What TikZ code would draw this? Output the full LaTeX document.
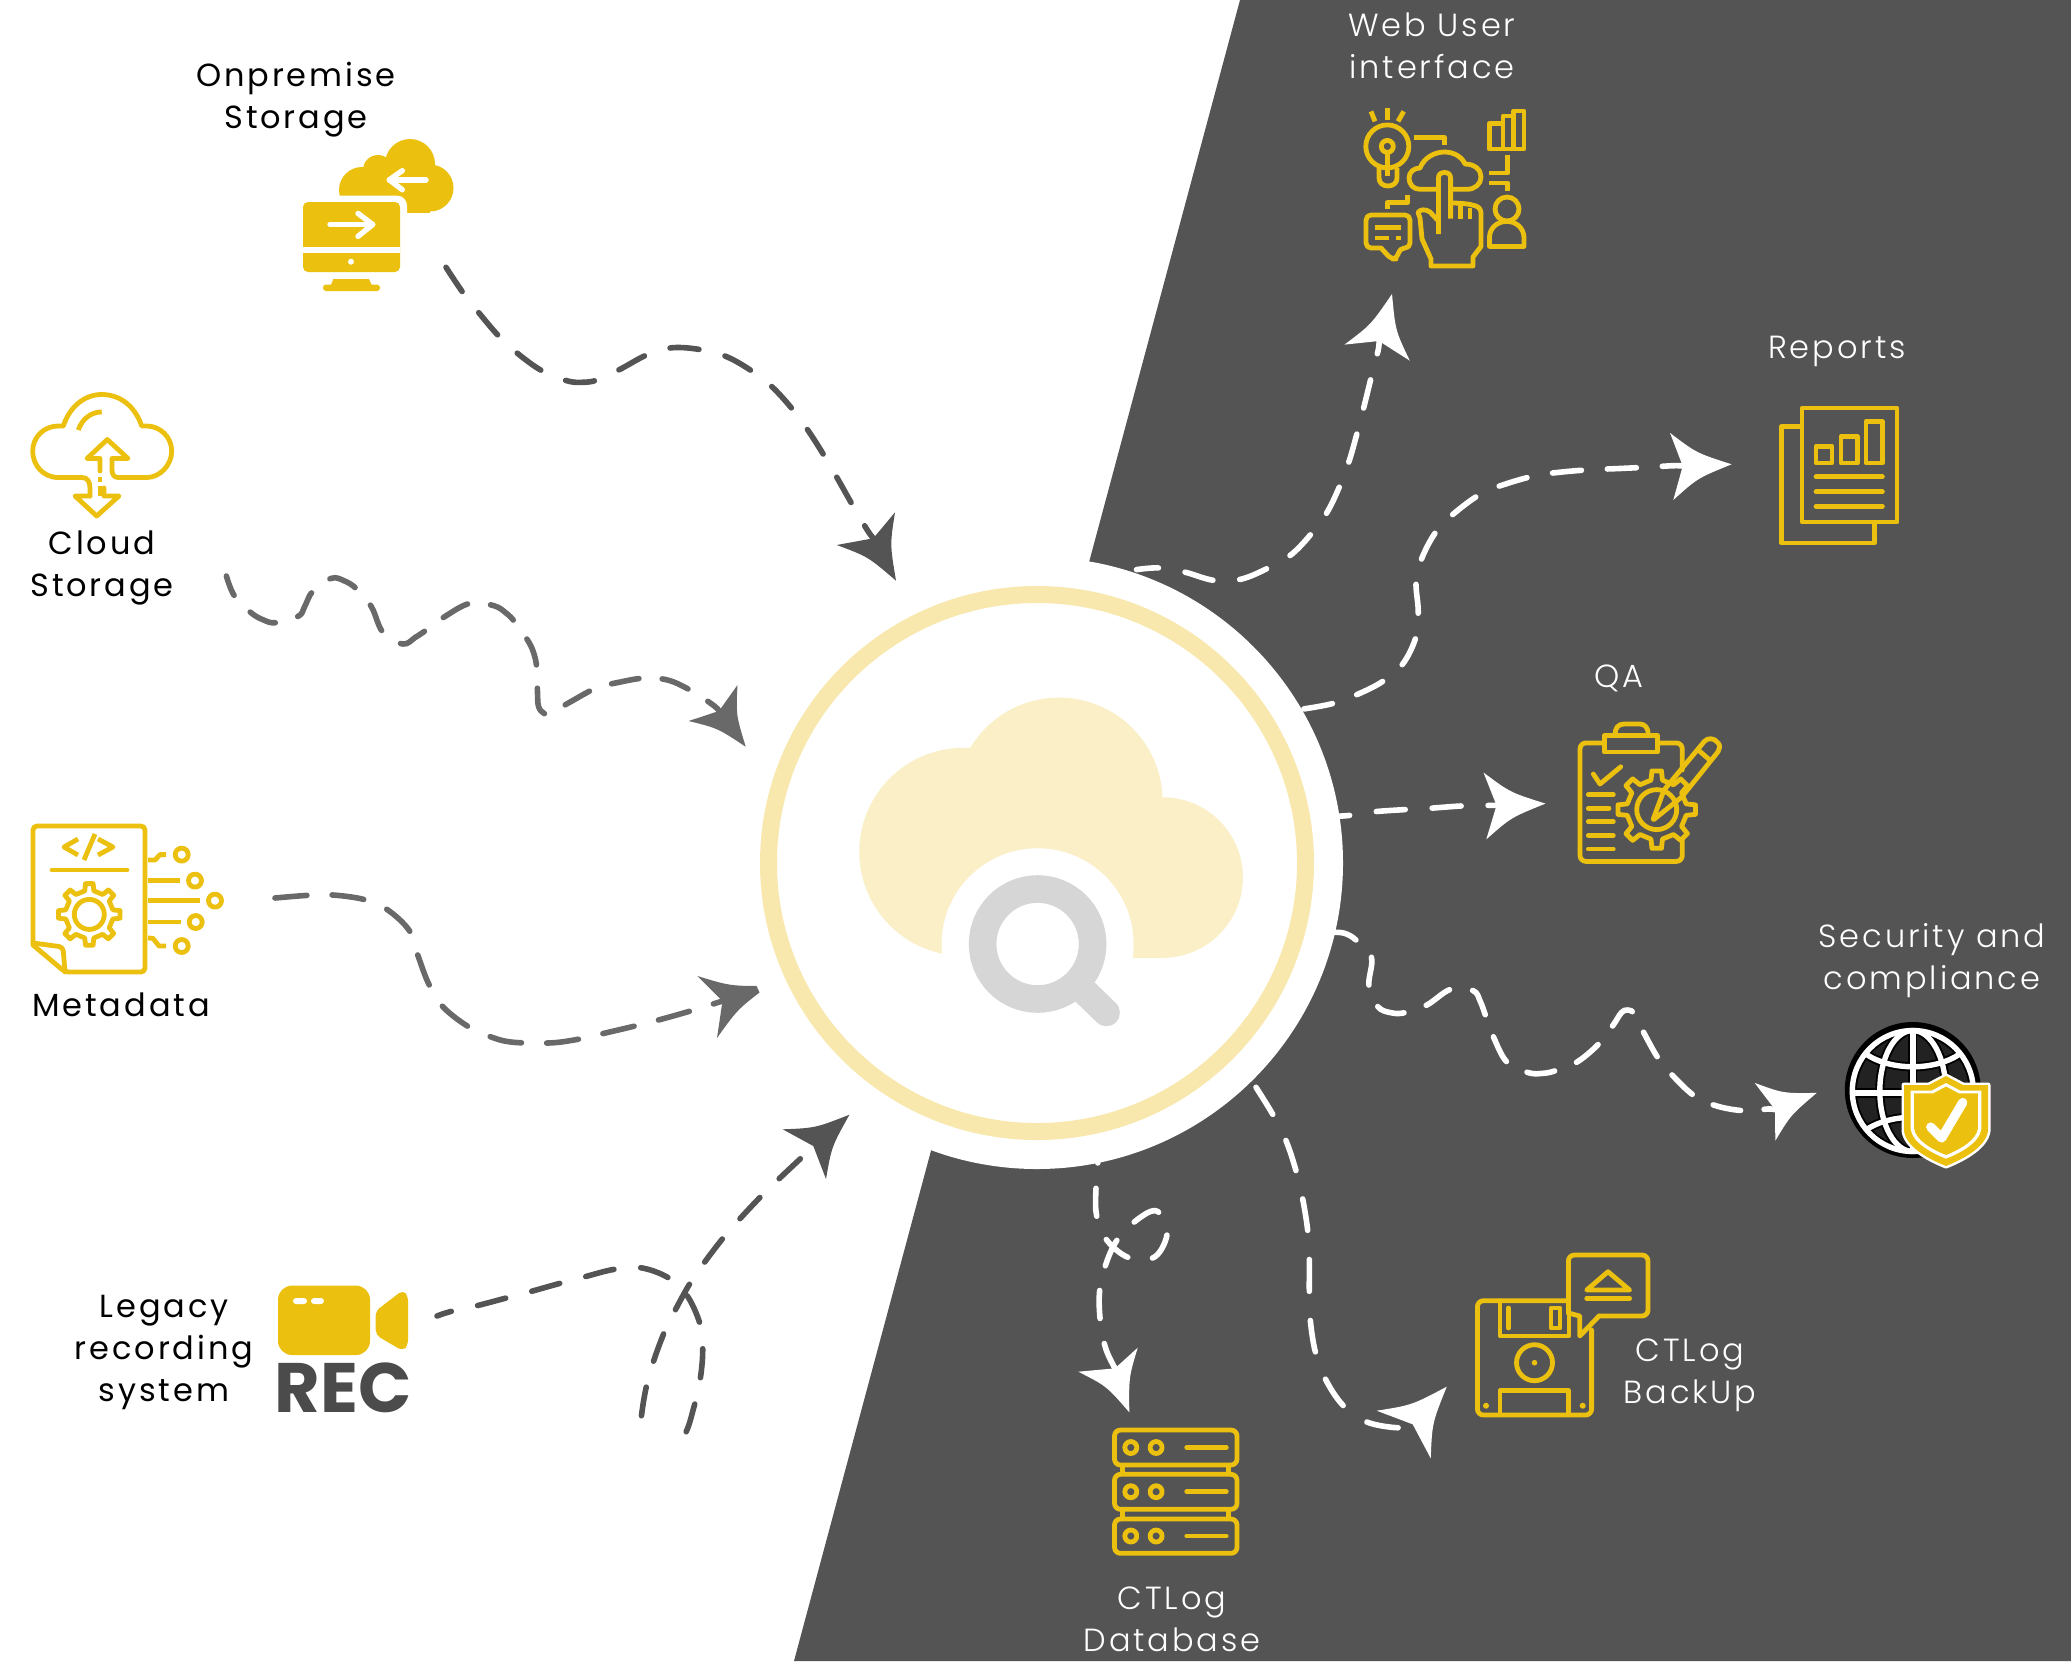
\documentclass[tikz,border=0pt]{standalone}
\usepackage{fontspec}
\usetikzlibrary{calc}
\setmainfont{Poppins}
\newfontfamily\lblfont[LetterSpace=9]{Poppins}
\newfontfamily\lbllight[LetterSpace=9,UprightFont=* Light]{Poppins}
\definecolor{ybase}{HTML}{ECC00E}
\definecolor{darkbg}{HTML}{545454}
\definecolor{midgrey}{HTML}{696969}
\definecolor{ringc}{HTML}{F8E8AD}
\definecolor{cloudc}{HTML}{FAEFC7}
\definecolor{magc}{HTML}{D6D6D6}
\definecolor{recc}{HTML}{4B4B4B}
\definecolor{cellc}{HTML}{222222}
\tikzset{
  icon/.style={draw=ybase,line width=2.4pt,line join=round,line cap=round,fill=none},
  iconfill/.style={fill=ybase,draw=none},
  wline/.style={draw=white,line width=2.7pt,line cap=round,line join=round},
  conn/.style={line width=2.8pt,line cap=round,dash pattern=on 14.5pt off 13.5pt},
  darkconn/.style={conn,draw=darkbg},
  greyconn/.style={conn,draw=midgrey},
  whiteconn/.style={conn,draw=white},
  labdark/.style={align=center,anchor=base,inner sep=0pt,text=black,font=\lblfont\fontsize{16}{21}\selectfont},
  lablight/.style={align=center,anchor=base,inner sep=0pt,text=white,font=\lbllight\fontsize{16}{21}\selectfont},
}
\newcommand{\ahd}[5]{\fill[#1] (#2) .. controls ($($(#2)!0.5!(#3)$)!0.25!(#4)$) .. (#3) -- (#4) -- (#5) .. controls ($($(#2)!0.5!(#5)$)!0.25!(#4)$) .. (#2) -- cycle;}
\newcommand{\gearicon}[4]{\begin{scope}[shift={(#1,#2)}]
  \draw[icon] (-11:#4) \foreach \a in {0,45,...,315}{ -- (\a-11:#4) -- (\a-7:#3) -- (\a+7:#3) -- (\a+11:#4) } -- cycle;
  \end{scope}}
\newcommand{\shieldp}{(0,-44) -- (17,-35) -- (42,-35) -- (42,11) .. controls (40,26) and (20,38) .. (0,46) .. controls (-20,38) and (-40,26) .. (-42,11) -- (-42,-35) -- (-17,-35) -- cycle}
\begin{document}
\begin{tikzpicture}[x=0.5pt,y=-0.5pt]
\useasboundingbox (0,0) rectangle (2071,1661);
\fill[white] (0,0) rectangle (2071,1661);
\fill[darkbg] (1240,0) -- (2071,0) -- (2071,1661) -- (794,1661) -- cycle;

% ---- incoming connectors (under the white disc)
\coordinate (s1) at (446,267.3); \coordinate (n1) at (873.3,538.3);
\draw[darkconn] plot[smooth,tension=.6] coordinates {(s1) (462.3,291.7) (479.3,313.3) (498.7,336) (518.3,354) (542.3,371) (566.7,380.7) (581.7,382.3) (597.3,380) (620,369.3) (647.3,354.7) (672.7,347.7) (702.7,350) (728,357.3) (754.3,372.7) (774.3,389) (794.7,412) (810,433.3) (826,458.7) (839.3,481.7) (854,507.7) (867.7,530.7) (n1)};
\ahd{darkbg}{896,580.7}{836.7,545}{n1}{895,512.3}

\coordinate (s2) at (226.4,576); \coordinate (n2) at (719,711);
\draw[greyconn,dash pattern=on 13.9pt off 11.7pt,dash phase=3.5pt] plot[smooth,tension=.6] coordinates {(s2) (234.3,595.7) (251,612.7) (263.6,620) (276,622.7) (298.6,616) (304.6,606.7) (312.9,591) (331.4,578.3) (343.9,580.7) (356.4,588.7) (371.4,606.7) (382.9,632.3) (402.9,644) (415.4,637.3) (426.4,630) (445.7,616) (470,603.3) (493.9,605.7) (506.4,613.3) (515.4,622.7) (528.9,642.3) (534.3,655) (536.8,668.7) (537.5,692.7) (538.6,706.7) (543.9,713.3) (550,713.3) (570.7,701.7) (595.7,688.3) (618.9,682.3) (645.7,678) (670,680.7) (694.6,692.7) (714.3,706) (n2)};
\ahd{midgrey}{745.7,746.7}{688.6,721}{n2}{737.5,685}

\coordinate (s3) at (275,898); \coordinate (n3) at (722.5,1001);
\draw[greyconn,dash pattern=on 16pt off 12.6pt] plot[smooth,tension=.6] coordinates {(s3) (308.3,895.3) (331.7,894.9) (363.3,899.3) (386.7,909.2) (409.3,930.5) (417.7,954.8) (428.3,983) (441.7,1005.5) (465.7,1025) (488.3,1035.9) (511,1042) (548,1043) (574,1040) (601,1034) (647,1023) (687,1012) (n3)};
\ahd{midgrey}{768,986}{697.4,976}{n3}{717,1038}

\coordinate (s4) at (437,1316); \coordinate (n4) at (813.3,1146);
\begin{scope}
\clip (430,1100) -- (900,1100) -- (900,1480) -- (720,1458) -- (620,1428) -- (430,1428) -- cycle;
\draw[darkconn,dash phase=7pt] plot[smooth,tension=.6] coordinates {(s4) (450,1311.7) (475.7,1306) (505,1298.3) (530,1291.7) (560,1283.3) (585,1276.7) (614.3,1269.3) (640.7,1267.7) (668.3,1277.7) (686.7,1295) (700,1324) (702.7,1350.7) (700,1380.7) (694,1406.7) (684.3,1435) (665,1451.7) (640,1439.3) (641.7,1414) (646.7,1385) (654.3,1359) (665,1330.7) (676.7,1307.3) (691,1281.7) (706.7,1259.3) (725,1235.7) (742.7,1215.7) (763.3,1194) (782.3,1175.7) (804.3,1155) (n4)};
\end{scope}
\ahd{darkbg}{849.4,1114.7}{782.7,1129.3}{n4}{826,1179}

% ---- centre
\fill[white] (1037,863) circle (306);
\draw[ringc,line width=8.5pt] (1037,863) circle (268.5);
\fill[cloudc] (963.3,851.8) circle (104);
\fill[cloudc] (1059,801.2) circle (103.6);
\fill[cloudc] (1162.6,877.5) circle (80.3);
\fill[cloudc] (963.3,800) rectangle (1162.6,957.8);
\fill[white] (1037.6,944.3) circle (96);
\draw[magc,line width=13.8pt] (1037.6,944) circle (55);
\draw[magc,line width=13.5pt,line cap=round] (1086,993) -- (1106.4,1012.7);

% ---- outgoing connectors
\coordinate (s5) at (1136.5,569.6); \coordinate (n5) at (1379,341);
\draw[whiteconn,dash phase=3.5pt] plot[smooth,tension=.6] coordinates {(s5) (1159,567.9) (1184.7,572.1) (1214,580.4) (1240.6,579.3) (1268.4,567.9) (1291.6,554.3) (1312,532.9) (1327.6,511.4) (1340.6,483.9) (1349.6,459.6) (1357.8,430.4) (1364.3,405.4) (1371.6,375.7) (1378.2,350) (n5)};
\ahd{white}{1392,294}{1344.5,344.6}{n5}{1409.8,360.7}

\coordinate (s6) at (1303.9,708.9); \coordinate (n6) at (1682.7,466);
\draw[whiteconn,dash pattern=on 14.5pt off 13pt] plot[smooth,tension=.6] coordinates {(s6) (1332.4,703.6) (1356.9,694.6) (1382.7,681.4) (1403,663.6) (1416.1,636.4) (1418.2,610.7) (1416.1,580.4) (1423,555.4) (1437.8,529.3) (1457.3,510.7) (1481.4,493.6) (1505.9,483.9) (1535.3,475.7) (1561,472.1) (1591.6,469.6) (1617.3,468.6) (1648.8,467.1) (1673.3,465.7) (n6)};
\ahd{white}{1731.6,464.3}{1670,432.9}{n6}{1673.3,500}

\coordinate (s7) at (1330,816.5); \coordinate (n7) at (1496.5,805.4);
\draw[whiteconn,dash phase=4.7pt] plot[smooth,tension=.6] coordinates {(s7) (1349.6,815.4) (1373.3,811.8) (1404.7,809.6) (1430.4,808.2) (1461,806) (1487.6,805.4) (n7)};
\ahd{white}{1545.5,803.6}{1483.5,772.5}{n7}{1486.3,839.3}

\coordinate (s8) at (1333.9,932.3); \coordinate (n8) at (1775,1109.6);
\draw[whiteconn,dash pattern=on 14pt off 11.8pt,dash phase=2pt] plot[smooth,tension=.6] coordinates {(s8) (1344.6,933.3) (1356,940) (1371.4,957.3) (1368.9,985.7) (1377.9,1006.7) (1391,1012.7) (1404.6,1012.7) (1426.8,1005) (1450.7,989.3) (1473.2,990.7) (1480.4,1001.7) (1485.7,1016) (1493.6,1037.3) (1507.1,1062.3) (1528.6,1072.7) (1542.9,1073.3) (1555.4,1070.7) (1577.5,1061.7) (1599.3,1043.3) (1613.2,1025) (1621.4,1012.7) (1627.9,1010) (1634.6,1014.3) (1645,1035) (1658.9,1059.3) (1674.3,1077.3) (1694.6,1096) (1716.8,1106) (1743.9,1110.7) (1767.9,1109) (n8)};
\ahd{white}{1816.7,1092.9}{1754.7,1082.9}{n8}{1775.3,1140.7}

\coordinate (s9) at (1099,1150); \coordinate (n9) at (1115,1368.3);
\draw[whiteconn,dash pattern=on 14pt off 12.7pt,dash phase=7.5pt] plot[smooth,tension=.6] coordinates {(s9) (1096,1187.7) (1096.7,1216) (1106.7,1240) (1129,1257.7) (1155,1256.7) (1167.3,1231.7) (1155.7,1210.7) (1131.7,1224) (1115,1243.3) (1104,1270) (1099.3,1295) (1100.7,1324.3) (1106,1349.3) (n9)};
\ahd{white}{1129.3,1412.3}{1078.3,1371.7}{n9}{1137.7,1347.7}

\coordinate (s10) at (1256,1087.3); \coordinate (n10) at (1412.7,1424.3);
\draw[whiteconn,dash pattern=on 15.9pt off 14.6pt] plot[smooth,tension=.6] coordinates {(s10) (1272.7,1114.3) (1286,1140.7) (1296,1170.7) (1302.7,1199) (1307.7,1230.7) (1309.3,1260) (1309.3,1290.7) (1310.3,1320) (1315.3,1351.7) (1325,1378.3) (1342.7,1405) (1366,1421.7) (1397.3,1427.7) (n10)};
\ahd{white}{1446.7,1386.7}{1376.7,1410.7}{n10}{1430.7,1458.3}

% ---- Onpremise icon
\fill[ybase] (362,190) circle (23);
\fill[ybase] (378,170) circle (15);
\fill[ybase] (410,164) circle (25);
\fill[ybase] (430,188) circle (23.5);
\fill[ybase] (362,175) rectangle (430,212.5);
\fill[white,rounded corners=5pt] (296,195.6) rectangle (407,240);
\fill[ybase,rounded corners=2.5pt] (303,202) rectangle (400,272);
\fill[white] (303,247) rectangle (400,253);
\fill[white] (351,261.7) circle (3);
\fill[ybase] (333.3,279) -- (369,279) -- (371.7,285) -- (331,285) -- cycle;
\fill[ybase,rounded corners=1.5pt] (323,284.6) rectangle (380,291);
\draw[wline] (330,224.5) -- (372.7,224.5);
\draw[wline] (358,213.4) -- (372.7,224.5) -- (358,236.4);
\draw[wline] (426,179.8) -- (389.3,179.8);
\draw[wline] (402.3,170.7) -- (389.3,179.8) -- (402.3,189.7);

% ---- Cloud icon
\draw[icon] (90,496) -- (90,488) .. controls (90,481) and (87,477.5) .. (82,477.5) -- (58.3,477.5) .. controls (43,477.5) and (32.7,465) .. (32.7,451) .. controls (32.7,437) and (44,426) .. (58.3,426) -- (63.3,426) .. controls (70,406) and (85,394.5) .. (101.7,394.5) .. controls (120,394.5) and (135,406) .. (141.7,426) -- (146.7,426) .. controls (160,426) and (171.7,437) .. (171.7,451) .. controls (171.7,465) and (160,477.5) .. (146.7,477.5) -- (118,477.5) .. controls (114,477.5) and (112,474) .. (112,470) -- (112,458.5) -- (128,458.5) -- (107.3,439.5) -- (87,458.5) -- (100,458.5) -- (100,471);
\draw[icon,line cap=butt] (100,477) -- (100,482);
\draw[icon,line cap=butt] (100,486) -- (100,496);
\draw[icon] (104,488) -- (104,496) -- (119,496) -- (96.7,516) -- (75,496) -- (90,496);
\draw[icon,line cap=butt] (78.3,430) .. controls (82,419) and (91,412) .. (101.7,411.9);

% ---- Metadata icon
\draw[icon,rounded corners=2pt] (33,945) -- (33,826) -- (145,826) -- (145,972) -- (65,972) -- (33,945);
\draw[icon,rounded corners=2pt] (65,972) -- (63,947) -- (33,943);
\draw[icon,line cap=butt] (78,839) -- (64,847) -- (78,855);
\draw[icon,line cap=butt] (95,834) -- (84,860);
\draw[icon,line cap=butt] (98,839) -- (113,847) -- (98,855);
\draw[icon] (52,870) -- (127,870);
\gearicon{89.3}{914.4}{31}{24}
\draw[icon] (89.3,914.4) circle (15);
\draw[icon,line cap=butt] (148,880.6) -- (180,880.6);
\draw[icon,line cap=butt] (148,900.6) -- (200,900.6);
\draw[icon,line cap=butt] (148,922) -- (181,922);
\draw[icon,line cap=butt] (148,860) -- (155,860) -- (160,854.6) -- (166,854.6);
\draw[icon,line cap=butt] (148,938) -- (153,938.3) -- (159,946) -- (166,946);
\draw[icon] (181.7,854.6) circle (6.5);
\draw[icon] (195,880.6) circle (6.5);
\draw[icon] (215,900.6) circle (6.5);
\draw[icon] (195.7,922) circle (6.5);
\draw[icon] (181.7,946) circle (6.5);

% ---- REC icon
\fill[ybase,rounded corners=7pt] (278,1285.6) rectangle (370,1355);
\fill[white,rounded corners=1.5pt] (293,1298) rectangle (307,1304);
\fill[white,rounded corners=1.5pt] (311,1298) rectangle (324,1304);
\fill[ybase,rounded corners=2.5pt] (375.7,1311) -- (403,1290) -- (408,1296) -- (408,1345) -- (403,1351) -- (375.7,1335) -- cycle;
\node[anchor=base,inner sep=0pt,text=recc,font=\bfseries\fontsize{35}{38}\selectfont] (rec) at (343,1412) {REC};

% ---- Web UI icon
\draw[icon,line cap=butt] (1387.3,146.4) circle (21.5);
\draw[icon] (1387.3,146.4) circle (6);
\draw[icon,line cap=butt] (1387.3,152) -- (1387.3,176);
\draw[icon,line cap=butt] (1379,168) -- (1379,178) .. controls (1379,183) and (1383,186) .. (1388,186) .. controls (1393,186) and (1397,183) .. (1397,178) -- (1397,168);
\draw[icon,line cap=butt] (1371,111.4) -- (1375,121.4);
\draw[icon,line cap=butt] (1387.3,108) -- (1387.3,120);
\draw[icon,line cap=butt] (1403.7,111.4) -- (1398,121.4);
\draw[icon,line cap=butt] (1414,137.5) -- (1444.5,137.5) -- (1444.5,145);
\draw[icon,line cap=butt] (1489.4,123.5) rectangle (1503,149);
\draw[icon,line cap=butt] (1503,116) rectangle (1513.5,149);
\draw[icon,line cap=butt] (1513.5,111) rectangle (1524,149);
\draw[icon,line cap=butt] (1507.8,155.4) -- (1507.8,173) -- (1489.4,173);
\draw[icon,line cap=butt] (1489.4,183) -- (1507.8,183) -- (1507.8,191);
\draw[icon,line cap=butt] (1438.4,189.3) -- (1420,189.3) .. controls (1413,189.3) and (1409,184) .. (1409,178) .. controls (1409,172) and (1414,168) .. (1420,168) .. controls (1424,158) and (1434,152) .. (1444.5,152) .. controls (1454,152) and (1462,157) .. (1465,164) .. controls (1475,164) and (1481,170) .. (1481,177) .. controls (1481,184) and (1475,189.3) .. (1467,189.3) -- (1450,189.3);
\draw[icon,line cap=butt] (1438.4,234) -- (1438.4,178.6) .. controls (1438.4,174) and (1441,172.5) .. (1444.5,172.5) .. controls (1448,172.5) and (1450.6,174) .. (1450.6,178.6) -- (1450.6,218.6);
\draw[icon,line cap=butt] (1460.8,205) -- (1460.8,218.6);
\draw[icon,line cap=butt] (1470,208) -- (1470,218.6);
\draw[icon,line cap=butt] (1450.6,203) .. controls (1462,203) and (1470,204) .. (1476,206) .. controls (1480,208) and (1481,210) .. (1481,214) -- (1481,246.4) -- (1473,257) -- (1473,266) -- (1431,266) -- (1431,259) -- (1422,239) -- (1420,218) -- (1418,212.5) .. controls (1420,209) and (1426,209) .. (1430,212) -- (1438.4,221);
\draw[icon,rounded corners=2.5pt] (1381,248) -- (1366,248) -- (1366,215) -- (1410,215) -- (1410,248) -- (1399.6,248) -- (1397,259) -- (1391,259) -- (1381,248);
\fill[ybase] (1375,225) rectangle (1401,230);
\fill[ybase] (1375,236) rectangle (1389,240);
\fill[ybase] (1395.5,236) rectangle (1401,240);
\draw[icon,line cap=butt] (1407.8,194.6) -- (1407.8,202.5) -- (1387.3,202.5) -- (1387.3,209);
\draw[icon] (1507,209) circle (12);
\draw[icon] (1489.4,246.4) -- (1524,246.4) -- (1524,238) .. controls (1524,228) and (1516,221.4) .. (1507,221.4) .. controls (1497,221.4) and (1489.4,228) .. (1489.4,238) -- cycle;

% ---- Reports icon
\draw[icon] (1802,408) rectangle (1897,522);
\draw[icon] (1801,426.8) -- (1781.2,426.8) -- (1781.2,542.9) -- (1874.3,542.9) -- (1874.3,523);
\draw[icon] (1816,446.4) rectangle (1832,462.9);
\draw[icon] (1841,436.4) rectangle (1857.6,462.9);
\draw[icon] (1866,421.4) rectangle (1882.4,462.9);
\draw[icon] (1816,476.8) -- (1882.4,476.8);
\draw[icon] (1816,491.8) -- (1882.4,491.8);
\draw[icon] (1816,506.4) -- (1882.4,506.4);

% ---- QA icon
\draw[icon,rounded corners=3pt] (1603.3,742.9) -- (1580,742.9) -- (1580,861.4) -- (1682.3,861.4) -- (1682.3,840);
\draw[icon,rounded corners=3pt] (1658.3,742.9) -- (1682.3,742.9) -- (1682.3,770);
\draw[icon] (1604.3,735.7) rectangle (1657.7,752);
\draw[icon] (1615,735) .. controls (1615,728) and (1618,724) .. (1624,724) -- (1640,724) .. controls (1645,724) and (1648.3,728) .. (1648.3,735);
\draw[icon] (1593.3,774) -- (1600,784) -- (1620.7,766.8);
\draw[icon] (1588.3,794.6) -- (1613.3,794.6);
\draw[icon] (1588.3,808.2) -- (1609,808.2);
\draw[icon] (1588.3,821.8) -- (1613.3,821.8);
\draw[icon] (1588.3,835.4) -- (1613.3,835.4);
\draw[icon] (1588.3,849) -- (1613.3,849);
\gearicon{1656.7}{809.6}{39}{30}
\draw[icon] (1656.7,809.6) circle (20);
\draw[icon,rounded corners=1pt] (1652.7,820.4) -- (1664,790) -- (1703,743) .. controls (1708,737) and (1714,739) .. (1717,742) .. controls (1720,745) and (1720,749) .. (1717,753) -- (1681.7,797) -- cycle;
\draw[icon] (1699,750.7) -- (1709.3,759.6);

% ---- Security icon
\fill[black] (1912.8,1090) circle (68);
\begin{scope}[shift={(1912.8,1091)}]
\fill[cellc] (0,0) circle (58);
\foreach \wcol/\wid in {black/4.6pt,white/2.7pt}{
\draw[\wcol,line width=\wid] (0,0) circle (60.5);
\draw[\wcol,line width=\wid] (0,0) ellipse (33 and 60.5);
\draw[\wcol,line width=\wid] (0,-60.5) -- (0,60.5);
\draw[\wcol,line width=\wid] (-60.5,2) -- (60.5,2);
\draw[\wcol,line width=\wid] (-47,-37) .. controls (-22,-20) and (22,-20) .. (47,-37);
\draw[\wcol,line width=\wid] (-47,39) .. controls (-22,22) and (22,22) .. (47,39);
}
\end{scope}
\begin{scope}[shift={(1946,1120)}]
\fill[white,line join=round] \shieldp;
\draw[white,line width=2.5pt,line join=round] \shieldp;
\fill[ybase] \shieldp;
\begin{scope}[scale=.84]
\fill[white] \shieldp;
\end{scope}
\begin{scope}[scale=.76]
\fill[ybase] \shieldp;
\end{scope}
\end{scope}
\draw[white,line width=4.6pt,line cap=round,line join=round] (1930.7,1127) -- (1941.7,1138) -- (1962.7,1102.5);

% ---- Database icon
\foreach \yt/\yb in {1430/1465,1474.3/1509.3,1519/1553.3}{
  \draw[icon,rounded corners=3pt] (1114.5,\yt) rectangle (1237,\yb);
}
\foreach \yy in {1447.5,1491.7,1536}{
  \draw[icon] (1130.8,\yy) circle (6);
  \draw[icon] (1156.1,\yy) circle (6);
  \draw[icon] (1186.7,\yy) -- (1226.3,\yy);
}
\draw[icon,line cap=butt] (1122.7,1465) -- (1122.7,1474);
\draw[icon,line cap=butt] (1228.4,1465) -- (1228.4,1474);
\draw[icon,line cap=butt] (1122.7,1509) -- (1122.7,1519);
\draw[icon,line cap=butt] (1228.4,1509) -- (1228.4,1519);

% ---- Backup icon
\draw[icon,rounded corners=3pt] (1566.3,1300.7) -- (1477.4,1300.7) -- (1477.4,1415) -- (1591.6,1415) -- (1591.6,1330);
\draw[icon] (1500,1301) -- (1500,1336) -- (1569,1336) -- (1569,1312);
\draw[icon] (1508.4,1308) -- (1508.4,1328);
\draw[icon] (1551,1308) rectangle (1560,1328);
\draw[icon] (1534.5,1362.7) circle (18);
\fill[ybase] (1534.5,1362.7) circle (2.8);
\draw[icon] (1500,1413) -- (1500,1390.7) -- (1568.4,1390.7) -- (1568.4,1413);
\fill[ybase] (1486,1405.7) circle (3);
\fill[ybase] (1582.7,1405.7) circle (3);
\draw[icon,rounded corners=3pt] (1568.4,1313) -- (1568.4,1255) -- (1648,1255) -- (1648,1316) -- (1599,1316);
\draw[icon] (1599,1316) -- (1579.8,1336) -- (1579.8,1316) -- (1568.4,1313);
\draw[icon] (1608,1271.7) -- (1629.6,1290) -- (1586.7,1290) -- cycle;
\draw[icon] (1586.7,1298.3) -- (1629.6,1298.3);

% ---- Labels
\node[labdark] (lonprem) at (296,128.5) {Onpremise\\Storage};
\node[labdark] (lcloud) at (102,596) {Cloud\\Storage};
\node[labdark] (lmeta) at (121,1016) {Metadata};
\node[labdark] (llegacy) at (164,1401) {Legacy\\recording\\system};
\node[lablight] (lweb) at (1432,78.6) {Web User\\interface};
\node[lablight] (lrep) at (1837,358) {Reports};
\node[lablight] (lqa) at (1619,687.5) {QA};
\node[lablight] (lsec) at (1932,989) {Security and\\compliance};
\node[lablight] (ldb) at (1172,1651.7) {CTLog\\Database};
\node[lablight] (lbak) at (1690,1403) {CTLog\\BackUp};
\end{tikzpicture}
\end{document}
